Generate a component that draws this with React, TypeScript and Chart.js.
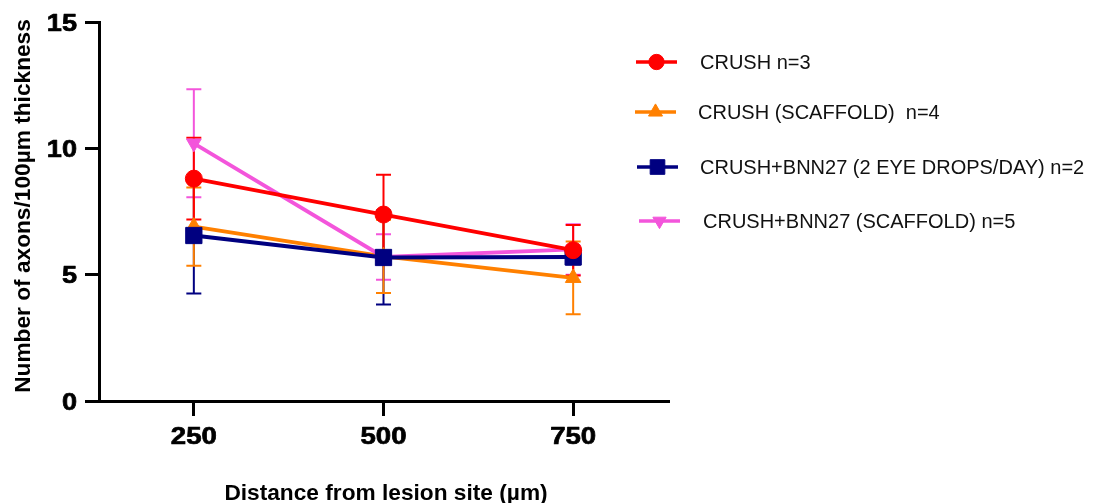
import React, { useEffect, useRef } from 'react';
import { Chart, registerables } from 'chart.js';
import { drawPoint } from 'chart.js/helpers';

Chart.register(...registerables);

// ---------- data ----------
const distances = [250, 500, 750];
const xTickValues = [250, 500, 750];
const yTickValues = [0, 5, 10, 15];

const seriesLabels = [
  'CRUSH n=3',
  'CRUSH (SCAFFOLD)  n=4',
  'CRUSH+BNN27 (2 EYE DROPS/DAY) n=2',
  'CRUSH+BNN27 (SCAFFOLD) n=5',
];

const crushMean = [8.8, 7.38, 5.97];
const crushErr = [1.62, 1.57, 1.0];

const crushScaffoldMean = [6.9, 5.72, 4.87];
const crushScaffoldErr = [1.55, 1.45, 1.44];

const bnnDropsMean = [6.55, 5.68, 5.7];
const bnnDropsErr = [2.3, 1.86, 0.3];

const bnnScaffoldMean = [10.2, 5.7, 6.0];
const bnnScaffoldErr = [2.14, 0.9, 1.0];

const xTitle = 'Distance from lesion site (µm)';
const yTitle = 'Number of axons/100µm thickness';

// ---------- style ----------
const FONT = "'Liberation Sans', Arial, sans-serif";
const colors = ['#FF0000', '#FF8000', '#000080', '#F355DB'];
const pointStyles = ['circle', 'triangle', 'rect', 'triangle'];
const pointRotations = [0, 0, 0, 180];
const pointRadii = [8.5, 9, 11.5, 8.5];
const means = [crushMean, crushScaffoldMean, bnnDropsMean, bnnScaffoldMean];
const errs = [crushErr, crushScaffoldErr, bnnDropsErr, bnnScaffoldErr];
const drawOrders = [0, 3, 1, 2];

const legendRows = [62, 112, 167, 221];
const legendLineX = [[636, 677], [635, 676], [637, 678], [639, 680]];
const legendTextX = [700, 698, 700, 703];

const errorBarPlugin = {
  id: 'errorBars',
  beforeDatasetsDraw(chart: any) {
    const { ctx, scales } = chart;
    const xs = scales.x;
    const ys = scales.y;
    ctx.save();
    ctx.lineWidth = 2;
    for (let s = means.length - 1; s >= 0; s--) {
      ctx.strokeStyle = colors[s];
      for (let i = 0; i < distances.length; i++) {
        const x = xs.getPixelForValue(distances[i]);
        const yt = ys.getPixelForValue(means[s][i] + errs[s][i]);
        const yb = ys.getPixelForValue(means[s][i] - errs[s][i]);
        ctx.beginPath();
        ctx.moveTo(x, yt);
        ctx.lineTo(x, yb);
        ctx.moveTo(x - 7.5, yt);
        ctx.lineTo(x + 7.5, yt);
        ctx.moveTo(x - 7.5, yb);
        ctx.lineTo(x + 7.5, yb);
        ctx.stroke();
      }
    }
    ctx.restore();
  },
};

const decorPlugin = {
  id: 'decor',
  afterDraw(chart: any) {
    const { ctx, scales } = chart;
    ctx.save();
    // legend
    for (let s = 0; s < seriesLabels.length; s++) {
      const y = legendRows[s];
      const [x1, x2] = legendLineX[s];
      ctx.strokeStyle = colors[s];
      ctx.lineWidth = 3.5;
      ctx.beginPath();
      ctx.moveTo(x1, y);
      ctx.lineTo(x2, y);
      ctx.stroke();
      ctx.fillStyle = colors[s];
      ctx.strokeStyle = colors[s];
      ctx.lineWidth = 1;
      drawPoint(ctx, {
        pointStyle: pointStyles[s],
        radius: pointRadii[s] * 0.9,
        rotation: pointRotations[s],
        borderWidth: 1,
      } as any, (x1 + x2) / 2, y);
      ctx.fillStyle = '#111';
      ctx.font = `20px ${FONT}`;
      ctx.textAlign = 'left';
      ctx.textBaseline = 'alphabetic';
      ctx.fillText(seriesLabels[s], legendTextX[s], y + 7);
    }
    // tick labels
    ctx.fillStyle = '#000';
    ctx.strokeStyle = '#000';
    ctx.lineWidth = 0.7;
    ctx.lineJoin = 'round';
    ctx.font = `bold 24px ${FONT}`;
    ctx.textBaseline = 'alphabetic';
    for (const v of yTickValues) {
      const y = scales.y.getPixelForValue(v);
      ctx.save();
      ctx.translate(77, y + 8.6);
      ctx.scale(1.13, 1);
      ctx.textAlign = 'right';
      ctx.fillText(String(v), 0, 0);
      ctx.strokeText(String(v), 0, 0);
      ctx.restore();
    }
    for (const v of xTickValues) {
      const x = scales.x.getPixelForValue(v);
      ctx.save();
      ctx.translate(x, 443.5);
      ctx.scale(1.15, 0.97);
      ctx.textAlign = 'center';
      ctx.fillText(String(v), 0, 0);
      ctx.strokeText(String(v), 0, 0);
      ctx.restore();
    }
    // axis titles
    ctx.font = `bold 22.7px ${FONT}`;
    ctx.textAlign = 'center';
    ctx.textBaseline = 'alphabetic';
    ctx.fillText(xTitle, 386, 500);
    ctx.translate(29.5, 206);
    ctx.rotate(-Math.PI / 2);
    ctx.fillText(yTitle, 0, 0);
    ctx.restore();
  },
};

export default function App() {
  const ref = useRef<HTMLCanvasElement | null>(null);
  useEffect(() => {
    if (!ref.current) return;
    const datasets = seriesLabels.map((label, s) => ({
      label,
      data: distances.map((d, i) => ({ x: d, y: means[s][i] })),
      borderColor: colors[s],
      backgroundColor: colors[s],
      borderWidth: 3.8,
      pointStyle: pointStyles[s],
      pointRotation: pointRotations[s],
      pointRadius: pointRadii[s],
      pointHoverRadius: pointRadii[s],
      pointBorderWidth: 1,
      pointBackgroundColor: colors[s],
      pointBorderColor: colors[s],
      tension: 0,
      fill: false,
      order: drawOrders[s],
    }));
    const chart = new Chart(ref.current, {
      type: 'line',
      data: { datasets },
      plugins: [errorBarPlugin, decorPlugin],
      options: {
        animation: false,
        responsive: true,
        maintainAspectRatio: false,
        layout: { padding: { left: 0, top: 22, right: 429, bottom: 0 } },
        plugins: {
          legend: { display: false },
          tooltip: { enabled: false },
          title: { display: false },
        },
        scales: {
          x: {
            type: 'linear',
            min: 125,
            max: 875,
            afterBuildTicks(scale: any) {
              scale.ticks = xTickValues.map((v) => ({ value: v }));
            },
            afterFit(scale: any) {
              scale.height = 102;
            },
            grid: {
              drawOnChartArea: false,
              drawTicks: true,
              tickLength: 15,
              lineWidth: 3,
              color: '#000',
            },
            border: { display: true, width: 3, color: '#000' },
            ticks: { display: false },
          },
          y: {
            type: 'linear',
            min: 0,
            max: 15,
            afterBuildTicks(scale: any) {
              scale.ticks = yTickValues.map((v) => ({ value: v }));
            },
            afterFit(scale: any) {
              scale.width = 99;
            },
            grid: {
              drawOnChartArea: false,
              drawTicks: true,
              tickLength: 14,
              lineWidth: 3,
              color: '#000',
            },
            border: { display: true, width: 3, color: '#000' },
            ticks: { display: false },
          },
        },
      } as any,
    });
    return () => chart.destroy();
  }, []);
  return (
    <div style={{ position: 'absolute', left: 0, top: 0, width: 1097, height: 503, background: '#fff' }}>
      <canvas ref={ref} />
    </div>
  );
}
